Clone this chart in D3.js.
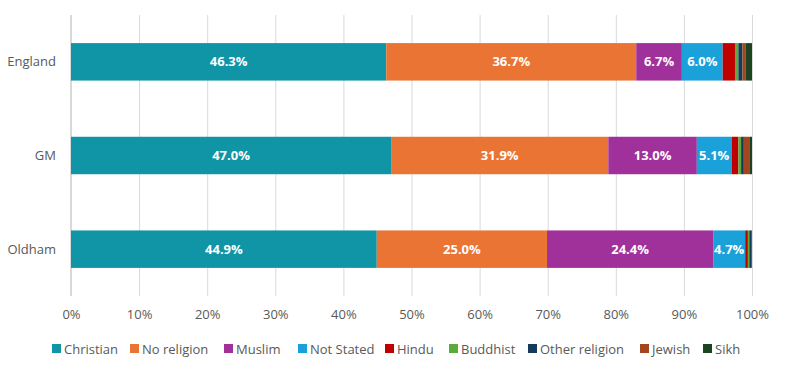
<!DOCTYPE html>
<html><head><meta charset="utf-8">
<script src="https://cdn.jsdelivr.net/npm/d3@7"></script>
<style>body{margin:0;background:#fff;} text{font-family:"Open Sans",sans-serif;}</style>
</head><body>
<svg id="chart" width="785" height="368"></svg>
<script>
const categories = ["England", "GM", "Oldham"];
const seriesNames = ["Christian","No religion","Muslim","Not Stated","Hindu","Buddhist","Other religion","Jewish","Sikh"];
const christian   = [46.3, 47.0, 44.9];
const noReligion  = [36.7, 31.9, 25.0];
const muslim      = [6.7, 13.0, 24.4];
const notStated   = [6.0, 5.1, 4.7];
const hindu       = [1.8, 1.0, 0.4];
const buddhist    = [0.5, 0.4, 0.2];
const otherRel    = [0.6, 0.4, 0.3];
const jewish      = [0.5, 0.9, 0.0];
const sikh        = [0.9, 0.3, 0.1];
const colors = ["#0f95a6","#ea7433","#a0309a","#1ba1d9","#c00000","#5aab3c","#163a5c","#a1461f","#1d4421"];
const tickValues = [0,10,20,30,40,50,60,70,80,90,100];
const labelThreshold = 4;

const seriesValues = [christian,noReligion,muslim,notStated,hindu,buddhist,otherRel,jewish,sikh];
const rows = categories.map((c,i)=>{const o={cat:c}; seriesNames.forEach((s,j)=>o[s]=seriesValues[j][i]); return o;});

const svg = d3.select("#chart");
const margin = {left:71, right:33, top:15, bottom:72};
const W = 785, H = 368;
const x = d3.scaleLinear().domain([0,100]).range([margin.left, W-margin.right]);
const y = d3.scaleBand().domain(categories).range([margin.top, H-margin.bottom]).paddingInner(0.6).paddingOuter(0.3);

// gridlines
svg.append("g").selectAll("line").data(tickValues).join("line")
  .attr("x1",d=>x(d)+0.5).attr("x2",d=>x(d)+0.5)
  .attr("y1",margin.top).attr("y2",H-margin.bottom)
  .attr("stroke","#d9d9d9").attr("stroke-width",1);

// tick labels
const xAxis = d3.axisBottom(x).tickValues(tickValues).tickFormat(d=>d+"%").tickSize(0).tickPadding(0);
const ax = svg.append("g").attr("transform",`translate(0,${H-margin.bottom+14})`).call(xAxis);
ax.select(".domain").remove();
ax.selectAll("text").attr("font-size",13).attr("fill","#595959").attr("font-family","Open Sans, sans-serif").attr("dy","0.71em");

const stack = d3.stack().keys(seriesNames)(rows);
const g = svg.append("g");
stack.forEach((layer,j)=>{
  g.append("g").attr("fill",colors[j]).selectAll("rect").data(layer).join("rect")
    .attr("x",d=>x(d[0])).attr("width",d=>Math.max(0,x(d[1])-x(d[0])))
    .attr("y",d=>y(d.data.cat)).attr("height",y.bandwidth());
  g.append("g").selectAll("text").data(layer.filter(d=>d[1]-d[0]>=labelThreshold)).join("text")
    .attr("x",d=>(x(d[0])+x(d[1]))/2).attr("y",d=>y(d.data.cat)+y.bandwidth()/2)
    .attr("dy","0.35em").attr("text-anchor","middle")
    .attr("fill","#fff").attr("font-weight","bold").attr("font-size",13)
    .text(d=>(d[1]-d[0]).toFixed(1)+"%");
});

// axis line
svg.append("line").attr("x1",x(0)-0.5).attr("x2",x(0)-0.5).attr("y1",margin.top).attr("y2",H-margin.bottom).attr("stroke","#d9d9d9");

// category labels
svg.append("g").selectAll("text").data(categories).join("text")
  .attr("x",margin.left-15).attr("y",d=>y(d)+y.bandwidth()/2).attr("dy","0.35em")
  .attr("text-anchor","end").attr("font-size",13).attr("fill","#595959").text(d=>d);

// legend (item positions follow the reference layout)
const legendX = [52,130,224,298,385,449,528,640,703];
const leg = svg.append("g").attr("transform","translate(0,349)");
seriesNames.forEach((s,j)=>{
  const it = leg.append("g").attr("transform",`translate(${legendX[j]},0)`);
  it.append("rect").attr("x",0).attr("y",-5).attr("width",9).attr("height",9).attr("fill",colors[j]);
  it.append("text").attr("x",12).attr("y",0).attr("dy","0.35em").attr("font-size",13).attr("fill","#595959").text(s);
});
</script>
</body></html>
